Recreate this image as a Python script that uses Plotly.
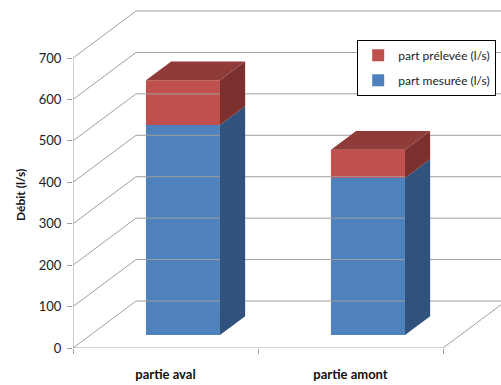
import plotly.graph_objects as go

# Data
categories = ["partie aval", "partie amont"]
part_mesuree = [507, 379]    # l/s
part_prelevee = [108, 68]    # l/s
y_ticks = [0, 100, 200, 300, 400, 500, 600, 700]

# Oblique "3D" projection parameters (in axis units)
KX = 0.3405        # horizontal shift of the back wall
KY = 113.4         # vertical shift of the back wall (value units)
Z0 = 0.277         # depth of the bar front face (0 = front, 1 = back wall)
DZ = 0.40          # bar depth
BAR_W = 0.40

X_MIN, X_MAX = -0.5, -0.5 + 428 / 185
Y_MAX = 343 / 0.41429

GRID = "#a0a0a0"
BLUE, BLUE_SIDE = "#4f81bd", "#30527c"
RED, RED_TOP, RED_SIDE = "#c0504d", "#8f3b39", "#7b302e"

fig = go.Figure()

# Walls: diagonal + back-wall gridlines for each tick value
for v in y_ticks:
    fig.add_trace(go.Scatter(
        x=[X_MIN, X_MIN + KX, 1.5 + KX + 0.2], y=[v, v + KY, v + KY],
        mode="lines", line=dict(color=GRID, width=1),
        hoverinfo="skip", showlegend=False))

# Front edge of the floor and its right diagonal
n = len(categories)
fig.add_trace(go.Scatter(
    x=[X_MIN, n - 0.5, n - 0.5 + KX], y=[0, 0, KY],
    mode="lines", line=dict(color=GRID, width=1),
    hoverinfo="skip", showlegend=False))

# Vertical value axis line
fig.add_trace(go.Scatter(
    x=[X_MIN, X_MIN], y=[y_ticks[0], y_ticks[-1]],
    mode="lines", line=dict(color=GRID, width=1),
    hoverinfo="skip", showlegend=False))

# Boundary tick marks on the category axis (drawn on xaxis2)
fig.add_trace(go.Scatter(
    x=[X_MIN], y=[0], xaxis="x2", mode="markers",
    marker=dict(opacity=0), hoverinfo="skip", showlegend=False))

dx = DZ * KX
dy = DZ * KY
base0 = Z0 * KY
xshift = Z0 * KX

series = [
    ("part mesurée (l/s)", part_mesuree, BLUE, BLUE_SIDE, None, 2),
    ("part prélevée (l/s)", part_prelevee, RED, RED_SIDE, RED_TOP, 1),
]

bottoms = [base0] * n
for name, vals, front, side, top, rank in series:
    xs = [i + xshift for i in range(n)]
    # Side faces
    for i in range(n):
        xr = xs[i] + BAR_W / 2
        b, t = bottoms[i], bottoms[i] + vals[i]
        fig.add_trace(go.Scatter(
            x=[xr, xr + dx, xr + dx, xr, xr], y=[b, b + dy, t + dy, t, b],
            mode="lines", fill="toself", fillcolor=side,
            line=dict(width=0, color=side), hoverinfo="skip", showlegend=False))
        if top:
            xl = xs[i] - BAR_W / 2
            fig.add_trace(go.Scatter(
                x=[xl, xr, xr + dx, xl + dx, xl], y=[t, t, t + dy, t + dy, t],
                mode="lines", fill="toself", fillcolor=top,
                line=dict(width=0, color=top), hoverinfo="skip", showlegend=False))
    # Front faces
    fig.add_trace(go.Bar(
        x=xs, y=vals, base=bottoms[:], width=BAR_W, name=name,
        marker=dict(color=front, line=dict(width=0)),
        legendrank=rank, legendgroup=name))
    bottoms = [bottoms[i] + vals[i] for i in range(n)]

fig.update_layout(
    width=501, height=385,
    margin=dict(l=73, r=0, t=5, b=37, autoexpand=False),
    paper_bgcolor="white", plot_bgcolor="white",
    barmode="overlay",
    font=dict(family="Lato, Carlito, sans-serif", color="#222"),
    xaxis=dict(
        range=[X_MIN, X_MAX], tickvals=list(range(n)), ticktext=categories,
        ticks="", showgrid=False, zeroline=False, showline=False,
        tickfont=dict(size=13, color="#111", weight="bold"),
        ticklabelstandoff=17),
    xaxis2=dict(
        range=[X_MIN, X_MAX], overlaying="x", anchor="y", side="bottom",
        tickvals=[i - 0.5 for i in range(n + 1)], ticks="outside", ticklen=5,
        tickcolor=GRID, showticklabels=False, showgrid=False, zeroline=False,
        showline=False),
    yaxis=dict(
        range=[0, Y_MAX], tickvals=y_ticks, ticks="outside", ticklen=5,
        tickcolor=GRID, showgrid=False, zeroline=False, showline=False,
        ticklabelstandoff=3,
        tickfont=dict(size=13, color="#222")),
    legend=dict(
        x=0.664, y=0.899, xanchor="left", yanchor="top",
        bgcolor="white", bordercolor="black", borderwidth=1,
        font=dict(size=12, color="#222"),
        traceorder="grouped", tracegroupgap=6),
    annotations=[dict(
        text="Débit (l/s)", textangle=-90, xref="paper", yref="paper",
        x=(20 - 73) / 428, y=1 - (195 - 5) / 343, showarrow=False,
        xanchor="center", yanchor="middle",
        font=dict(size=12, color="#111", weight="bold"))],
)

fig.write_html("out.html")
